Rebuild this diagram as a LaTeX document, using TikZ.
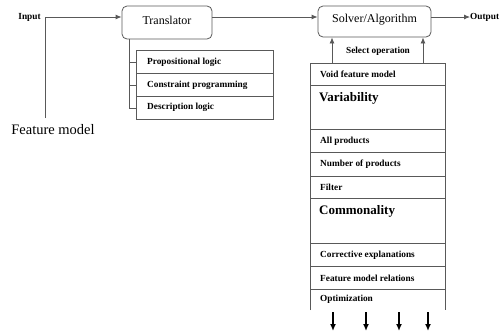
\documentclass[tikz,border=0pt]{standalone}
\usepackage{fontspec}
\setmainfont{Liberation Serif}
\usetikzlibrary{arrows.meta}
\begin{document}
\begin{tikzpicture}[x=1pt,y=-1pt,
  line/.style={draw=black!65, line width=0.8pt},
  arr/.style={line, -{Latex[length=6pt,width=5pt]}},
  darr/.style={draw=black, line width=1.6pt, -{Latex[length=7pt,width=6pt]}},
  rbox/.style={draw=black!65, line width=0.8pt, rounded corners=5pt},
  sbox/.style={draw=black!65, line width=0.8pt, minimum width=137pt, minimum height=23pt, anchor=north west, inner sep=0pt},
  small/.style={font=\fontsize{9.3}{11}\selectfont\bfseries, inner sep=0pt},
  big/.style={font=\fontsize{13}{15}\selectfont\bfseries, inner sep=0pt},
  mid/.style={font=\fontsize{12}{14}\selectfont, inner sep=0pt},
  item/.style={small, anchor=west},
]
\useasboundingbox (0,0) rectangle (500,335);

% main boxes
\node[rbox, minimum width=90pt, minimum height=33pt, inner sep=0pt] (tr) at (167,22.5) {};
\node[mid] (trl) at (167,20) {Translator};
\node[rbox, minimum width=113pt, minimum height=31pt, inner sep=0pt] (sv) at (374.5,21.5) {};
\node[mid] (svl) at (374.5,19.5) {Solver/Algorithm};

% input
\node[small] (inp) at (29.5,17) {Input};
\node[font=\fontsize{14.5}{16}\selectfont, inner sep=0pt] (fm) at (53,130) {Feature model};
\coordinate (fmtop) at (45,118);
\coordinate (j) at (45,17);
\draw[arr] (fmtop) -- (j) -- (tr.west |- j);
\draw[arr] (tr.east |- j) -- (sv.west |- j);
\node[small, anchor=west] (out) at (470,17) {Output};
\draw[arr] (sv.east |- j) -- (out.west);

% translator list
\node[sbox, minimum width=137pt] (p1) at (136,50) {};
\node[sbox, minimum width=137pt] (p2) at (136,73) {};
\node[sbox, minimum width=137pt] (p3) at (136,96) {};
\node[item] (p1t) at (147,62) {Propositional logic};
\node[item] (p2t) at (147,85) {Constraint programming};
\node[item] (p3t) at (147,107.5) {Description logic};
\coordinate (tb) at (129,0);
\draw[line] (tr.south -| tb) -- (tb |- p3.west) -- (p3.west);
\draw[line] (tb |- p1.west) -- (p1.west);
\draw[line] (tb |- p2.west) -- (p2.west);

% solver list frame
\draw[line] (310,310) -- (310,63) -- (445,63) -- (445,310);
\foreach \yy in {85,129,152,176,198,243,266,289}
  \draw[line] (310,\yy) -- (445,\yy);
\node[item] (o1) at (320,74) {Void feature model};
\node[big, anchor=west] (o2) at (319,98.5) {Variability};
\node[item] (o3) at (320,141) {All products};
\node[item] (o4) at (320,164) {Number of products};
\node[item] (o5) at (320,187) {Filter};
\node[big, anchor=west] (o6) at (319,211) {Commonality};
\node[item] (o7) at (320,255) {Corrective explanations};
\node[item] (o8) at (320,278) {Feature model relations};
\node[item] (o9) at (320,299.5) {Optimization};

% select operation
\coordinate (s1) at (332,63);
\coordinate (s2) at (423,63);
\draw[arr] (s1) -- (s1 |- sv.south);
\draw[arr] (s2) -- (s2 |- sv.south);
\node[small] (sel) at (378,51) {Select operation};

% down arrows
\foreach \xx/\n in {333/1,366/2,399/3,428/4}{
  \coordinate (d\n a) at (\xx,312);
  \coordinate (d\n b) at (\xx,331);
  \draw[darr] (d\n a) -- (d\n b);
}
\end{tikzpicture}
\end{document}
